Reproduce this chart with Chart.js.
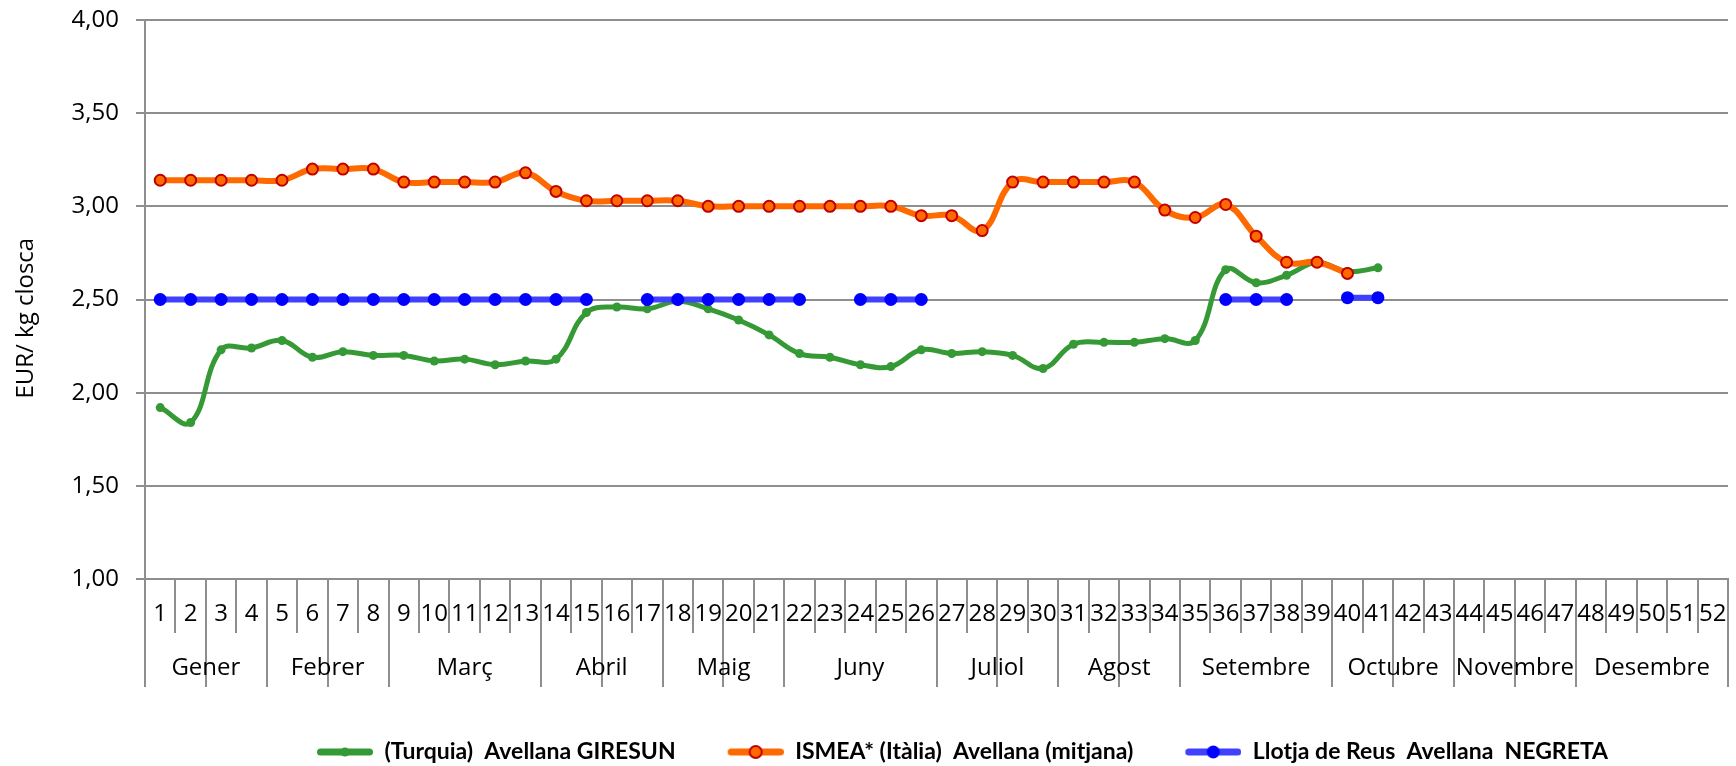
<!DOCTYPE html>
<html>
<head>
<meta charset="utf-8">
<title>Preus avellana</title>
<script src="https://cdn.jsdelivr.net/npm/chart.js@4.4.1/dist/chart.umd.min.js"></script>
<style>
  html, body { margin: 0; padding: 0; background: #fff; }
  #wrap { width: 1736px; height: 766px; }
</style>
</head>
<body>
<div id="wrap"><canvas id="chart"></canvas></div>
<script>
// weeks and months of the year
const weeks = ['1', '2', '3', '4', '5', '6', '7', '8', '9', '10', '11', '12', '13',
    '14', '15', '16', '17', '18', '19', '20', '21', '22', '23', '24', '25', '26',
    '27', '28', '29', '30', '31', '32', '33', '34', '35', '36', '37', '38', '39',
    '40', '41', '42', '43', '44', '45', '46', '47', '48', '49', '50', '51', '52'];
const months = ['Gener', 'Febrer', 'Març', 'Abril', 'Maig', 'Juny', 'Juliol',
    'Agost', 'Setembre', 'Octubre', 'Novembre', 'Desembre'];
const monthWeeks = [4, 4, 5, 4, 4, 5, 4, 4, 5, 4, 4, 5];

const seriesNames = ['(Turquia)  Avellana GIRESUN', 'ISMEA* (Itàlia)  Avellana (mitjana)',
    'Llotja de Reus  Avellana  NEGRETA'];

// EUR / kg closca per week
const giresun = [1.92, 1.84, 2.23, 2.24, 2.28, 2.19, 2.22, 2.20, 2.20, 2.17, 2.18, 2.15, 2.17,
    2.18, 2.43, 2.46, 2.45, 2.49, 2.45, 2.39, 2.31, 2.21, 2.19, 2.15, 2.14, 2.23,
    2.21, 2.22, 2.20, 2.13, 2.26, 2.27, 2.27, 2.29, 2.28, 2.66, 2.59, 2.63, 2.70,
    2.65, 2.67, null, null, null, null, null, null, null, null, null, null, null];
const ismea = [3.14, 3.14, 3.14, 3.14, 3.14, 3.20, 3.20, 3.20, 3.13, 3.13, 3.13, 3.13, 3.18,
    3.08, 3.03, 3.03, 3.03, 3.03, 3.00, 3.00, 3.00, 3.00, 3.00, 3.00, 3.00, 2.95,
    2.95, 2.87, 3.13, 3.13, 3.13, 3.13, 3.13, 2.98, 2.94, 3.01, 2.84, 2.70, 2.70,
    2.64, null, null, null, null, null, null, null, null, null, null, null, null];
const negreta = [2.50, 2.50, 2.50, 2.50, 2.50, 2.50, 2.50, 2.50, 2.50, 2.50, 2.50, 2.50, 2.50,
    2.50, 2.50, null, 2.50, 2.50, 2.50, 2.50, 2.50, 2.50, null, 2.50, 2.50, 2.50,
    null, null, null, null, null, null, null, null, null, 2.50, 2.50, 2.50, null,
    2.51, 2.51, null, null, null, null, null, null, null, null, null, null, null];

const gridColor = '#8e8e8e';

// month boundaries (in weeks) and label positions
const monthBounds = [0];
monthWeeks.forEach(function(n, i) { monthBounds.push(monthBounds[i] + n); });
const monthCenters = months.map(function(m, i) { return (monthBounds[i] + monthBounds[i + 1]) / 2; });

// legend sample: line with marker, transparent gap on the left for spacing
function legendIcon(color, dotFill, dotBorder, radius, borderW) {
    const c = document.createElement('canvas');
    c.width = 108;
    c.height = 20;
    const g = c.getContext('2d');
    g.strokeStyle = color;
    g.lineWidth = 7;
    g.lineCap = 'round';
    g.beginPath();
    g.moveTo(55.5, 10);
    g.lineTo(104.5, 10);
    g.stroke();
    g.beginPath();
    g.arc(80, 10, radius, 0, Math.PI * 2);
    g.fillStyle = dotFill;
    g.fill();
    if (borderW) {
        g.lineWidth = borderW;
        g.strokeStyle = dotBorder;
        g.stroke();
    }
    return c;
}
const legendIcons = [
    legendIcon('#359a35', '#359a35', null, 4.5, 0),
    legendIcon('#ff6a00', '#ff6a00', '#c00000', 6, 2),
    legendIcon('#4040ff', '#0000ff', null, 6.5, 0)
];

Chart.defaults.font.family = "'Open Sans', sans-serif";
Chart.defaults.color = '#000';

const ctx = document.getElementById('chart').getContext('2d');
const chart = new Chart(ctx, {
    type: 'line',
    data: {
        labels: weeks,
        datasets: [{
            label: seriesNames[0],
            data: giresun,
            borderColor: '#359a35',
            backgroundColor: '#359a35',
            borderWidth: 5,
            pointRadius: 4.5,
            pointBorderWidth: 0,
            tension: 0.4,
            order: 3
        }, {
            label: seriesNames[1],
            data: ismea,
            borderColor: '#ff6a00',
            backgroundColor: '#ff6a00',
            borderWidth: 6,
            pointRadius: 5.5,
            pointBackgroundColor: '#ff6a00',
            pointBorderColor: '#c00000',
            pointBorderWidth: 2,
            tension: 0.4,
            order: 2
        }, {
            label: seriesNames[2],
            data: negreta,
            borderColor: '#4040ff',
            backgroundColor: '#0000ff',
            borderWidth: 6,
            pointRadius: 6.5,
            pointBackgroundColor: '#0000ff',
            pointBorderWidth: 0,
            tension: 0,
            order: 1
        }]
    },
    options: {
        responsive: true,
        maintainAspectRatio: false,
        animation: false,
        layout: { padding: { top: 20, right: 8, bottom: -7.5, left: 0 } },
        plugins: {
            tooltip: { enabled: false },
            legend: {
                position: 'bottom',
                fullSize: false,
                labels: {
                    usePointStyle: true,
                    pointStyleWidth: 108,
                    padding: 0,
                    color: '#000',
                    font: { family: 'Lato', weight: 'bold', size: 23 },
                    generateLabels: function(chart) {
                        return chart.data.datasets.map(function(ds, i) {
                            return {
                                text: ds.label,
                                datasetIndex: i,
                                pointStyle: legendIcons[i],
                                fillStyle: 'transparent',
                                strokeStyle: 'transparent',
                                lineWidth: 0,
                                fontColor: '#000',
                                hidden: false
                            };
                        });
                    }
                }
            }
        },
        scales: {
            y: {
                min: 1,
                max: 4,
                afterFit: function(scale) {
                    scale.width = 145;
                    scale.paddingTop = 0;
                    scale.paddingBottom = 0;
                },
                ticks: {
                    stepSize: 0.5,
                    padding: 17,
                    font: { size: 24 },
                    callback: function(value) { return value.toFixed(2).replace('.', ','); }
                },
                grid: { color: gridColor, lineWidth: 2, tickLength: 9 },
                border: { color: gridColor, width: 2 },
                title: {
                    display: true,
                    text: 'EUR/ kg closca      ',
                    font: { size: 24 },
                    padding: { top: 12, bottom: 0 }
                }
            },
            x: {
                type: 'category',
                offset: true,
                afterFit: function(scale) { scale.height = 54; },
                ticks: {
                    autoSkip: false,
                    maxRotation: 0,
                    minRotation: 0,
                    padding: -33,
                    font: { size: 24 }
                },
                grid: {
                    offset: true,
                    drawOnChartArea: false,
                    color: gridColor,
                    lineWidth: 2,
                    tickLength: 54
                },
                border: { color: gridColor, width: 2 }
            },
            x2: {
                type: 'linear',
                position: 'bottom',
                min: 0,
                max: 52,
                afterFit: function(scale) { scale.height = 107.5; },
                afterBuildTicks: function(scale) {
                    scale.ticks = monthBounds.concat(monthCenters)
                        .sort(function(a, b) { return a - b; })
                        .map(function(v) { return { value: v }; });
                },
                ticks: {
                    autoSkip: false,
                    maxRotation: 0,
                    minRotation: 0,
                    padding: -33,
                    font: { size: 24 },
                    callback: function(value) {
                        const i = monthCenters.indexOf(value);
                        return i >= 0 ? months[i] : '';
                    }
                },
                grid: {
                    drawOnChartArea: false,
                    lineWidth: 2,
                    tickLength: 54,
                    color: function(c) {
                        return Number.isInteger(c.tick.value) ? gridColor : 'rgba(0,0,0,0)';
                    }
                },
                border: { display: false }
            }
        }
    }
});
</script>
</body>
</html>
